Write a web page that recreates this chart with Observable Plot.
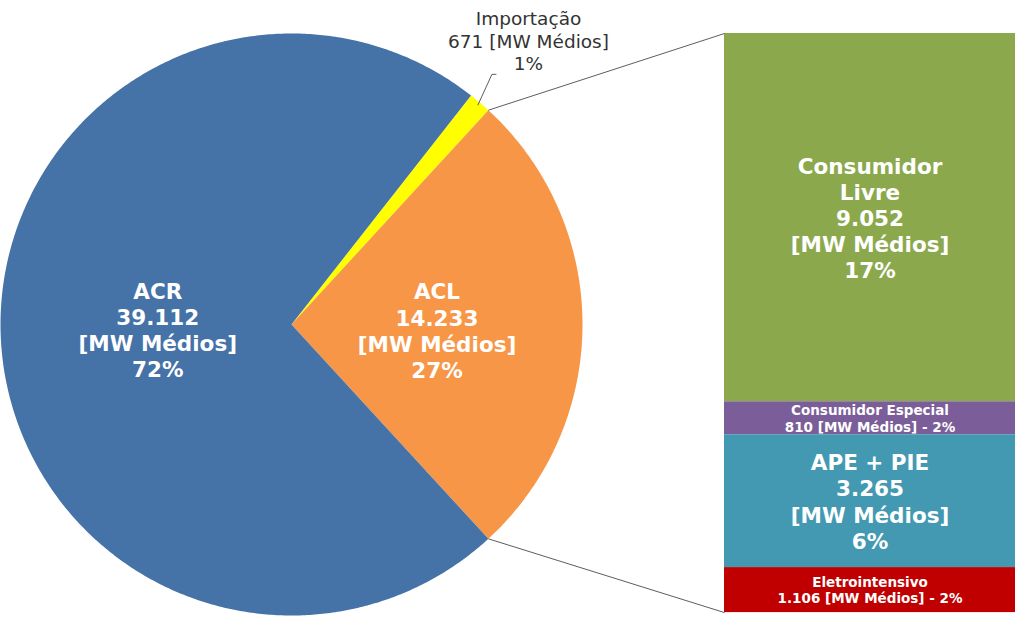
<!DOCTYPE html>
<html><head><meta charset="utf-8">
<script src="https://cdn.jsdelivr.net/npm/d3@7"></script>
<script src="https://cdn.jsdelivr.net/npm/@observablehq/plot@0.6"></script>
<style>body{margin:0;background:#fff}#chart{width:1024px;height:639px}</style>
</head><body><div id="chart"></div>
<script>
// Pie data (MW médios)
const pieNames = ["Importação", "ACL", "ACR"];
const pieValues = [671, 14233, 39112];
const piePct = ["1%", "27%", "72%"];
const pieColors = ["#FFFF00", "#F79646", "#4572A7"];

// Bar (breakdown of ACL), top to bottom
const barNames = ["Consumidor\nLivre", "Consumidor Especial", "APE + PIE", "Eletrointensivo"];
const barValues = [9052, 810, 3265, 1106];
const barValueLabels = ["9.052", "810", "3.265", "1.106"];
const barPct = ["17%", "2%", "6%", "2%"];
const barColors = ["#8CA84D", "#7B5E99", "#4399B1", "#C00000"];

const W = 1024, H = 639, R = 291, CX = 291, CY = 324;
const deg = Math.PI / 180;
const total = d3.sum(pieValues);
const aclSpan = pieValues[1] / total * 2 * Math.PI;
const impSpan = pieValues[0] / total * 2 * Math.PI;
const start = Math.PI / 2 - aclSpan / 2 - impSpan;
const arcs = d3.pie().sort(null).value(d => d).startAngle(start).endAngle(start + 2 * Math.PI)(pieValues);

const pt = (a, r) => ({x: r * Math.sin(a), y: r * Math.cos(a)});
const sliceMarks = arcs.map((a, i) => {
  const pts = [{x: 0, y: 0}];
  const n = Math.max(4, Math.ceil((a.endAngle - a.startAngle) / (0.5 * deg)));
  for (let k = 0; k <= n; k++) pts.push(pt(a.startAngle + (a.endAngle - a.startAngle) * k / n, 1));
  pts.push({x: 0, y: 0});
  return Plot.line(pts, {x: "x", y: "y", fill: pieColors[i], stroke: "none", curve: "linear"});
});

// bar geometry in chart units
const bx1 = 1.488, bx2 = 2.488, bTop = 1.0, bBot = -0.99;
const barTotal = d3.sum(barValues);
let cum = 0;
const bars = barValues.map((v, i) => {
  const y1 = bTop - cum / barTotal * (bTop - bBot);
  cum += v;
  const y2 = bTop - cum / barTotal * (bTop - bBot);
  return {i, y1, y2, ym: (y1 + y2) / 2, xm: (bx1 + bx2) / 2};
});

const aclArc = arcs[1];
const pA = pt(aclArc.startAngle, 1), pB = pt(aclArc.endAngle, 1);
const links = [
  {x1: pA.x, y1: pA.y, x2: bx1, y2: bTop},
  {x1: pB.x, y1: pB.y, x2: bx1, y2: bBot}
];

const fmt = v => d3.format(",")(v).replace(/,/g, ".");
const acrMid = (arcs[2].startAngle + arcs[2].endAngle) / 2;
const aclMid = (aclArc.startAngle + aclArc.endAngle) / 2;
const bigLabels = [
  {x: pt(acrMid, 0.46).x, y: pt(acrMid, 0.46).y,
   t: `${pieNames[2]}\n${fmt(pieValues[2])}\n[MW Médios]\n${piePct[2]}`},
  {x: pt(aclMid, 0.5).x, y: pt(aclMid, 0.5).y - 0.02,
   t: `${pieNames[1]}\n${fmt(pieValues[1])}\n[MW Médios]\n${piePct[1]}`},
  {x: bars[0].xm, y: bars[0].ym, t: `${barNames[0]}\n${barValueLabels[0]}\n[MW Médios]\n${barPct[0]}`},
  {x: bars[2].xm, y: bars[2].ym, t: `${barNames[2]}\n${barValueLabels[2]}\n[MW Médios]\n${barPct[2]}`}
];
const smallLabels = [1, 3].map(i => ({x: bars[i].xm, y: bars[i].ym, t: `${barNames[i]}\n${barValueLabels[i]} [MW Médios] - ${barPct[i]}`}));

const impMid = (arcs[0].startAngle + arcs[0].endAngle) / 2;
const impA = pt(impMid, 0.99);
const leader = [impA, {x: impA.x + 0.048, y: impA.y + 0.105}, {x: impA.x + 0.062, y: impA.y + 0.105}];

const FONT = "Verdana, 'DejaVu Sans', sans-serif";
const chart = Plot.plot({
  width: W, height: H, margin: 0,
  x: {domain: [-CX / R, (W - CX) / R], axis: null},
  y: {domain: [(CY - H) / R, CY / R], axis: null},
  style: {fontFamily: FONT, background: "white"},
  marks: [
    ...sliceMarks,
    Plot.rect(bars, {x1: bx1, x2: bx2, y1: "y1", y2: "y2", fill: d => barColors[d.i]}),
    Plot.link(links, {x1: "x1", y1: "y1", x2: "x2", y2: "y2", stroke: "#333", strokeWidth: 0.8}),
    Plot.line(leader, {x: "x", y: "y", stroke: "#333", strokeWidth: 0.8}),
    Plot.text(bigLabels, {x: "x", y: "y", text: "t", fill: "white", fontSize: 21.5, fontWeight: "bold", lineHeight: 1.22}),
    Plot.text(smallLabels, {x: "x", y: "y", text: "t", fill: "white", fontSize: 13.5, fontWeight: "bold", lineHeight: 1.2}),
    Plot.text([{x: (528 - CX) / R, y: (CY - 40) / R, t: `${pieNames[0]}\n${pieValues[0]} [MW Médios]\n${piePct[0]}`}],
      {x: "x", y: "y", text: "t", fill: "#333", fontSize: 18.5, lineHeight: 1.2})
  ]
});
document.getElementById("chart").appendChild(chart);
</script></body></html>
